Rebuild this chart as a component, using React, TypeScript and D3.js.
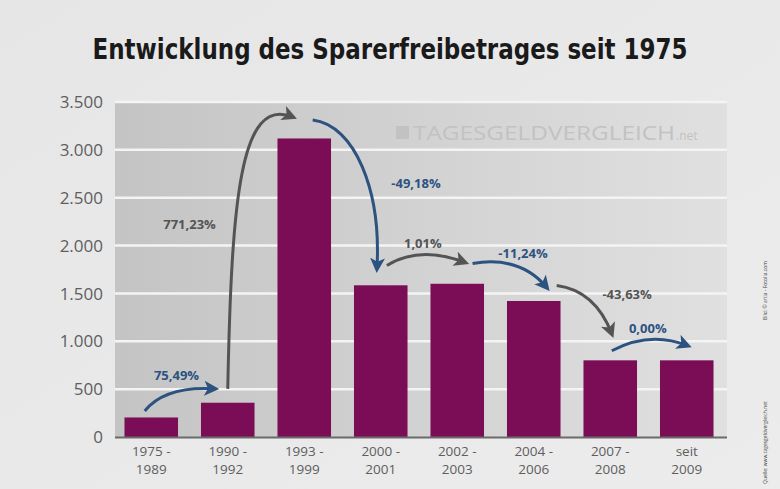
import { useMemo } from "react";
import * as d3 from "d3";

const width = 780;
const height = 489;
const margin = { top: 102, right: 53, bottom: 53, left: 115 };

// data
const periods = [
  ["1975 -", "1989"],
  ["1990 -", "1992"],
  ["1993 -", "1999"],
  ["2000 -", "2001"],
  ["2002 -", "2003"],
  ["2004 -", "2006"],
  ["2007 -", "2008"],
  ["seit", "2009"],
];
const amounts = [204, 358, 3119, 1585, 1601, 1421, 801, 801];
const yTicks = [0, 500, 1000, 1500, 2000, 2500, 3000, 3500];
const title = "Entwicklung des Sparerfreibetrages seit 1975";

// arrow shapes in (bar index, value) space
type Pt = [number, number];
const arrowShapes: { p: Pt[]; label: Pt; blue: boolean }[] = [
  { p: [[-0.085, 272], [0.18, 534], [0.83, 503]], label: [0.33, 597], blue: true },
  { p: [[1.0, 503], [1.05, 2473], [1.16, 3574], [1.85, 3343]], label: [0.5, 2169], blue: false },
  { p: [[2.11, 3312], [2.66, 3259], [3.01, 2578], [2.95, 1761]], label: [3.46, 2599], blue: true },
  { p: [[3.08, 1792], [3.51, 2002], [4.1, 1824]], label: [3.55, 1970], blue: false },
  { p: [[4.2, 1813], [4.82, 1897], [5.17, 1562]], label: [4.86, 1865], blue: true },
  { p: [[5.3, 1582], [5.8, 1530], [6.02, 1079]], label: [6.22, 1446], blue: false },
  { p: [[6.02, 901], [6.52, 1111], [7.01, 954]], label: [6.49, 1090], blue: true },
];

const BLUE = "#2c5280";
const GREY = "#545454";
const fmt = (n: number) => d3.format(",")(n).replace(/,/g, ".");

const App = () => {
  const keys = periods.map((p) => p.join(" "));

  const { xScale, yScale, px } = useMemo(() => {
    const xScale = d3
      .scaleBand()
      .domain(keys)
      .range([113, 725])
      .paddingInner(0.3)
      .paddingOuter(0.15);
    const yScale = d3
      .scaleLinear()
      .domain([0, 3500])
      .range([height - margin.bottom + 1, margin.top]);
    const step = xScale.step();
    const c0 = (xScale(keys[0]) as number) + xScale.bandwidth() / 2;
    const px = (q: Pt): [number, number] => [c0 + q[0] * step, yScale(q[1])];
    return { xScale, yScale, px };
  }, []);

  const arrows = arrowShapes.map((a, i) => {
    const pts = a.p.map(px);
    const path = d3.path();
    path.moveTo(pts[0][0], pts[0][1]);
    if (pts.length === 3) path.quadraticCurveTo(pts[1][0], pts[1][1], pts[2][0], pts[2][1]);
    else path.bezierCurveTo(pts[1][0], pts[1][1], pts[2][0], pts[2][1], pts[3][0], pts[3][1]);
    const change = ((amounts[i + 1] / amounts[i] - 1) * 100).toFixed(2).replace(".", ",") + "%";
    return { d: path.toString(), label: px(a.label), text: change, color: a.blue ? BLUE : GREY };
  });

  const plotRight = 727;

  return (
    <svg
      width={width}
      height={height}
      style={{ position: "absolute", left: 0, top: 0 }}
    >
      <defs>
        <linearGradient id="bg" x1="0" y1="0" x2="1" y2="1">
          <stop offset="0" stopColor="#e6e6e6" />
          <stop offset="1" stopColor="#ececec" />
        </linearGradient>
        <linearGradient id="panel" x1="0" y1="0" x2="1" y2="0">
          <stop offset="0" stopColor="#c4c4c4" />
          <stop offset="0.5" stopColor="#d2d2d2" />
          <stop offset="1" stopColor="#e0e0e0" />
        </linearGradient>
        {[BLUE, GREY].map((c) => (
          <marker
            key={c}
            id={"head" + c.slice(1)}
            viewBox="0 0 10 10"
            refX="7"
            refY="5"
            markerWidth="5"
            markerHeight="5"
            orient="auto"
          >
            <path d="M0,0 L10,5 L0,10 L2.5,5 Z" fill={c} />
          </marker>
        ))}
      </defs>
      <rect width={width} height={height} fill="url(#bg)" />

      {/* title */}
      <text
        x={390}
        y={59}
        textAnchor="middle"
        fontFamily="'Liberation Sans Narrow', 'DejaVu Sans Condensed', sans-serif"
        fontWeight="bold"
        fontSize={28}
        fill="#1a1a1a"
        textLength={595}
        lengthAdjust="spacingAndGlyphs"
      >
        {title}
      </text>

      {/* plot panel */}
      <rect
        x={margin.left}
        y={yScale(3500)}
        width={plotRight - margin.left}
        height={yScale(0) - yScale(3500)}
        fill="url(#panel)"
      />
      {yTicks.map((t) => (
        <g key={t}>
          {t > 0 && (
            <line
              x1={margin.left}
              x2={plotRight}
              y1={yScale(t)}
              y2={yScale(t)}
              stroke="#f4f4f4"
              strokeWidth={2.5}
            />
          )}
          <text
            x={103}
            y={yScale(t)}
            dy="0.36em"
            textAnchor="end"
            fontFamily="'Open Sans', sans-serif"
            fontSize={17}
            fill="#5e5e5e"
          >
            {fmt(t)}
          </text>
        </g>
      ))}

      {/* watermark */}
      <g fill="#c2c2c2" fontFamily="'Open Sans', sans-serif">
        <rect x={396} y={126} width={13} height={13} fill="#c2c2c2" />
        <text x={413} y={140} fontSize={20} textLength={262} lengthAdjust="spacingAndGlyphs">
          TAGESGELDVERGLEICH
        </text>
        <text x={676} y={140} fontSize={12}>
          .net
        </text>
      </g>

      {/* bars */}
      {amounts.map((v, i) => (
        <rect
          key={i}
          x={xScale(keys[i])}
          y={yScale(v)}
          width={xScale.bandwidth()}
          height={yScale(0) - yScale(v)}
          fill="#7a0d55"
        />
      ))}
      <line
        x1={margin.left}
        x2={plotRight}
        y1={yScale(0) + 0.5}
        y2={yScale(0) + 0.5}
        stroke="#6a6a6a"
        strokeWidth={2}
      />

      {/* x labels, two lines each */}
      {periods.map((p, i) => {
        const cx = (xScale(keys[i]) as number) + xScale.bandwidth() / 2;
        return p.map((line, j) => (
          <text
            key={`${i}-${j}`}
            x={cx}
            y={456 + j * 18}
            textAnchor="middle"
            fontFamily="'Open Sans', sans-serif"
            fontSize={13.5}
            fill="#5e5e5e"
          >
            {line}
          </text>
        ));
      })}

      {/* change arrows */}
      {arrows.map((a, i) => (
        <g key={i}>
          <path
            d={a.d}
            fill="none"
            stroke={a.color}
            strokeWidth={3}
            markerEnd={`url(#head${a.color.slice(1)})`}
          />
          <text
            x={a.label[0]}
            y={a.label[1]}
            textAnchor="middle"
            fontFamily="'Open Sans', sans-serif"
            fontWeight="bold"
            fontSize={13}
            fill={a.color}
          >
            {a.text}
          </text>
        </g>
      ))}

      {/* side credits */}
      <g fontFamily="'Open Sans', sans-serif" fontSize={5} fill="#444">
        <text transform="translate(767,320) rotate(-90)">Bild: © artia - Fotolia.com</text>
        <text transform="translate(767,484) rotate(-90)">Quelle: www.tagesgeldvergleich.net</text>
      </g>
    </svg>
  );
};

export default App;
